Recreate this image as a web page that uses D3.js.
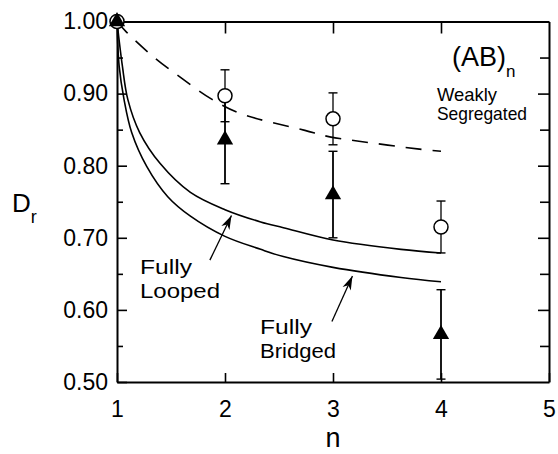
<!DOCTYPE html>
<html>
<head>
<meta charset="utf-8">
<script src="https://cdn.jsdelivr.net/npm/d3@7"></script>
<style>
  html, body { margin: 0; padding: 0; background: #fff; }
  svg { display: block; font-family: "Liberation Sans", Arial, Helvetica, sans-serif; }
</style>
</head>
<body>
<svg id="chart" width="558" height="454"></svg>
<script>
// measured points (n = number of AB blocks)
const nValues = [1, 2, 3, 4];
const weakMeans = [1.0, 0.897, 0.865, 0.715];
const weakErrors = [0, 0.036, 0.036, 0.036];
const strongMeans = [1.0, 0.836, 0.760, 0.566];
const strongErrors = [0, 0.061, 0.060, 0.062];

// model curves
const weakCurveN = [1, 1.09, 1.33, 1.61, 1.88, 2.15, 2.74, 2.97, 3.24, 3.8, 4];
const weakCurveD = [1, 0.985, 0.952, 0.92, 0.892, 0.872, 0.849, 0.840, 0.834, 0.823, 0.820];
const loopedN = [1, 1.05, 1.10, 1.21, 1.40, 1.68, 2, 2.33, 2.54, 3, 3.63, 4];
const loopedD = [1, 0.938, 0.892, 0.846, 0.803, 0.763, 0.739, 0.722, 0.714, 0.697, 0.684, 0.679];
const bridgedN = [1, 1.02, 1.065, 1.136, 1.275, 1.47, 1.68, 2, 2.33, 2.54, 3, 3.63, 4];
const bridgedD = [1, 0.938, 0.892, 0.846, 0.799, 0.757, 0.730, 0.702, 0.684, 0.674, 0.659, 0.645, 0.639];

// axis ticks
const xTicks = [1, 2, 3, 4, 5];
const yTicks = [0.5, 0.6, 0.7, 0.8, 0.9, 1.0];
const yMinorTicks = [0.55, 0.65, 0.75, 0.85, 0.95];

const width = 558, height = 454;
const margin = { top: 21.5, right: 9, bottom: 72, left: 117 };

const svg = d3.select('#chart');

const x = d3.scaleLinear().domain([1, 5]).range([margin.left, width - margin.right]);
const y = d3.scaleLinear().domain([0.5, 1]).range([height - margin.bottom, margin.top]);

// common axis styling
function styleAxis(g, fontSize) {
  g.attr('font-family', null).attr('font-size', fontSize);
  g.select('.domain').attr('stroke-width', 2);
  g.selectAll('.tick line').attr('stroke-width', 1.6);
  g.selectAll('.tick text').attr('fill', '#000');
}

// left axis with labels
svg.append('g')
  .attr('transform', `translate(${x(1)},0)`)
  .call(d3.axisLeft(y).tickValues(yTicks).tickFormat(d3.format('.2f'))
    .tickSize(-10).tickSizeOuter(0).tickPadding(9))
  .call(g => styleAxis(g, 23));

svg.append('g')
  .attr('transform', `translate(${x(1)},0)`)
  .call(d3.axisLeft(y).tickValues(yMinorTicks).tickFormat('').tickSize(-6).tickSizeOuter(0))
  .call(g => { g.select('.domain').remove(); g.selectAll('.tick line').attr('stroke-width', 1.6); });

// right frame
svg.append('g')
  .attr('transform', `translate(${x(5)},0)`)
  .call(d3.axisRight(y).tickValues(yTicks.slice(1, -1)).tickFormat('').tickSize(-11).tickSizeOuter(0))
  .call(g => styleAxis(g, 10));

svg.append('g')
  .attr('transform', `translate(${x(5)},0)`)
  .call(d3.axisRight(y).tickValues(yMinorTicks).tickFormat('').tickSize(-9).tickSizeOuter(0))
  .call(g => { g.select('.domain').remove(); g.selectAll('.tick line').attr('stroke-width', 1.6); });

// top frame
svg.append('g')
  .attr('transform', `translate(0,${y(1)})`)
  .call(d3.axisTop(x).tickValues(xTicks.slice(1, -1)).tickFormat('').tickSize(-12).tickSizeOuter(0))
  .call(g => styleAxis(g, 10));

// bottom axis with labels
svg.append('g')
  .attr('transform', `translate(0,${y(0.5)})`)
  .call(d3.axisBottom(x).tickValues(xTicks).tickFormat(d3.format('d'))
    .tickSize(-9).tickSizeOuter(0).tickPadding(19))
  .call(g => styleAxis(g, 23));

// axis titles
svg.append('text')
  .attr('x', x(3)).attr('y', 447)
  .attr('text-anchor', 'middle')
  .attr('font-size', 27)
  .text('n');

const dLabel = svg.append('text')
  .attr('x', 12).attr('y', 212)
  .attr('font-size', 26);
dLabel.append('tspan').text('D');
dLabel.append('tspan').attr('font-size', 18).attr('dy', 11).text('r');

// curves
const line = d3.line()
  .x(d => x(d[0]))
  .y(d => y(d[1]))
  .curve(d3.curveCatmullRom.alpha(0.5));

const curves = [
  { n: weakCurveN, d: weakCurveD, dash: '16,11' },
  { n: loopedN, d: loopedD, dash: null },
  { n: bridgedN, d: bridgedD, dash: null }
];

curves.forEach(c => {
  svg.append('path')
    .datum(d3.zip(c.n, c.d))
    .attr('fill', 'none')
    .attr('stroke', '#000')
    .attr('stroke-width', 1.6)
    .attr('stroke-dasharray', c.dash)
    .attr('d', line);
});

// error bars
function errorBars(means, errors, strokeWidth) {
  nValues.forEach((n, i) => {
    if (!errors[i]) return;
    const g = svg.append('g').attr('stroke', '#000').attr('stroke-width', strokeWidth);
    const lo = y(means[i] - errors[i]);
    const hi = y(means[i] + errors[i]);
    g.append('line').attr('x1', x(n)).attr('x2', x(n)).attr('y1', lo).attr('y2', hi);
    g.append('line').attr('x1', x(n) - 4.5).attr('x2', x(n) + 4.5).attr('y1', lo).attr('y2', lo).attr('stroke-width', 1.4);
    g.append('line').attr('x1', x(n) - 4.5).attr('x2', x(n) + 4.5).attr('y1', hi).attr('y2', hi).attr('stroke-width', 1.4);
  });
}

errorBars(strongMeans, strongErrors, 1.8);
errorBars(weakMeans, weakErrors, 1.3);

// open circles: weakly segregated data
svg.selectAll('circle.weak')
  .data(nValues)
  .join('circle')
  .attr('class', 'weak')
  .attr('cx', d => x(d))
  .attr('cy', (d, i) => y(weakMeans[i]))
  .attr('r', 7)
  .attr('fill', '#fff')
  .attr('stroke', '#000')
  .attr('stroke-width', 1.5);

// filled triangles
svg.selectAll('path.strong')
  .data(nValues)
  .join('path')
  .attr('class', 'strong')
  .attr('transform', (d, i) => `translate(${x(d)},${y(strongMeans[i])})`)
  .attr('d', d3.symbol(d3.symbolTriangle, 115))
  .attr('fill', '#000');

// annotation arrows
function arrow(from, to) {
  const x0 = x(from[0]), y0 = y(from[1]);
  const x1 = x(to[0]), y1 = y(to[1]);
  const ang = Math.atan2(y1 - y0, x1 - x0);
  svg.append('line')
    .attr('x1', x0).attr('y1', y0).attr('x2', x1).attr('y2', y1)
    .attr('stroke', '#000').attr('stroke-width', 1.3);
  const len = 14, half = 4.5, notch = 10;
  const pt = (a, b) => [x1 + a * Math.cos(ang) - b * Math.sin(ang), y1 + a * Math.sin(ang) + b * Math.cos(ang)];
  const head = [pt(0, 0), pt(-len, -half), pt(-notch, 0), pt(-len, half)];
  svg.append('path')
    .attr('d', 'M' + head.map(p => p.join(',')).join('L') + 'Z')
    .attr('fill', '#000');
}

arrow([1.86, 0.669], [2.06, 0.731]);
arrow([2.99, 0.584], [3.18, 0.647]);

// text annotations (stretched a little to match the wide scanned lettering)
function label(txt, px, py, size, len) {
  const t = svg.append('text').attr('x', px).attr('y', py).attr('font-size', size).text(txt);
  if (len) t.attr('textLength', len).attr('lengthAdjust', 'spacingAndGlyphs');
  return t;
}

const ab = svg.append('text').attr('x', 452).attr('y', 66).attr('font-size', 27);
ab.append('tspan').text('(AB)');
ab.append('tspan').attr('font-size', 17).attr('dy', 11).text('n');

label('Weakly', 437, 101, 19, 60);
label('Segregated', 437, 120, 19, 90);
label('Fully', 140, 274, 21, 52);
label('Looped', 140, 298, 21, 80);
label('Fully', 260, 334, 21, 52);
label('Bridged', 260, 358, 21, 76);
</script>
</body>
</html>
